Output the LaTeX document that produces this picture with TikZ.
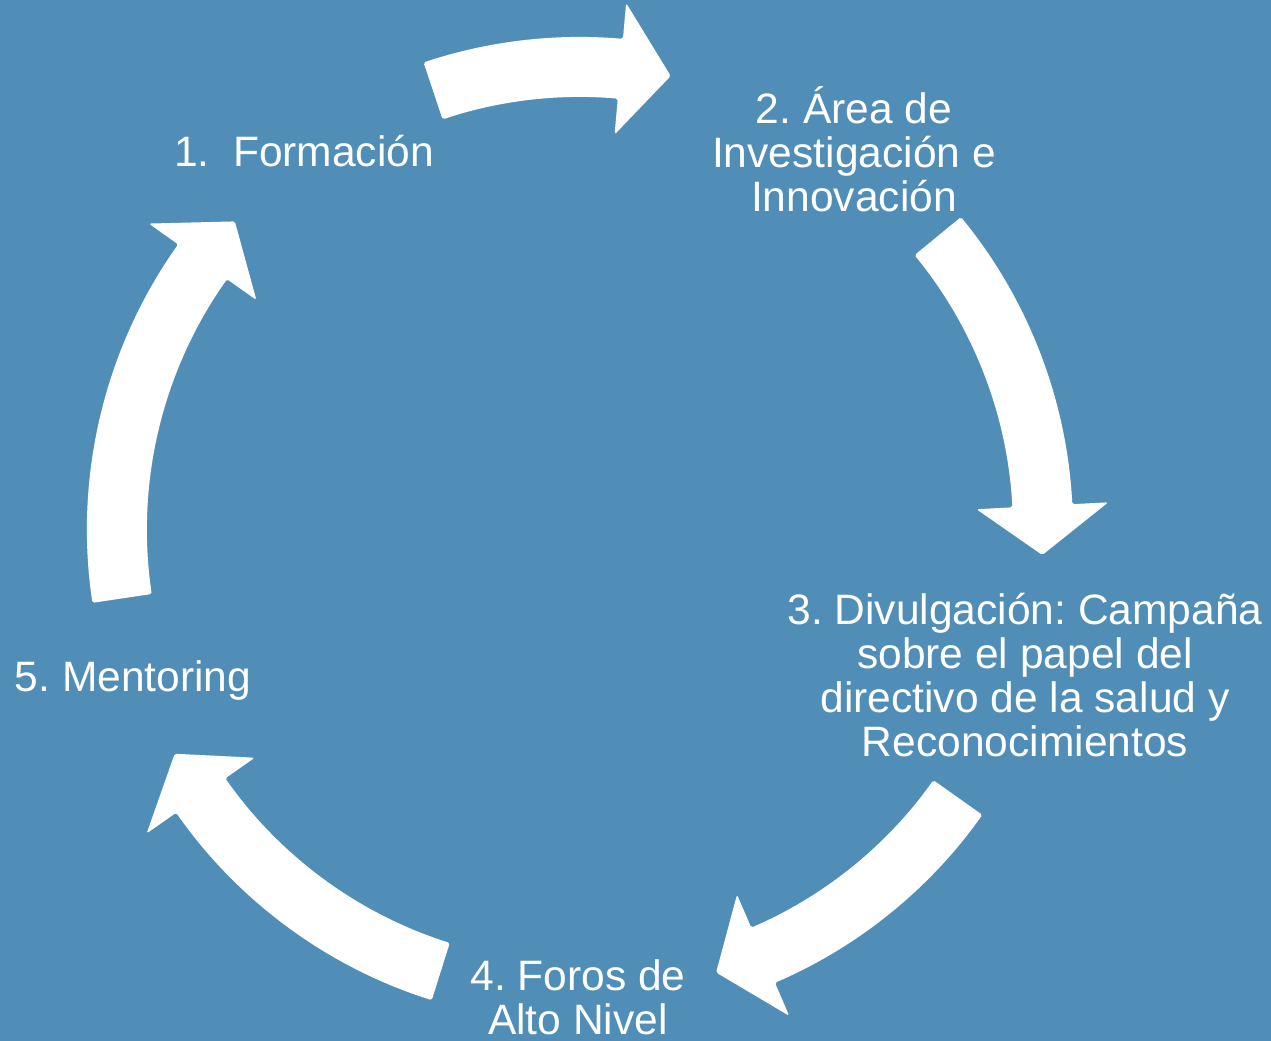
\documentclass[tikz,border=0pt]{standalone}
\usepackage{fontspec}
\setmainfont{Liberation Sans}
\definecolor{cycleblue}{RGB}{80,142,183}

\begin{document}
\frenchspacing
\begin{tikzpicture}[
		% Shape and text styles
		cyclearrow/.style={fill=white, rounded corners=1pt},
		steplabel/.style={text=white, font=\fontsize{24.2}{25.2}\selectfont, align=center,
				anchor=base, inner sep=0pt}
	]

	% Background
	\fill[cycleblue] (-11.6,-10.22) rectangle (13.82,10.6);
	\useasboundingbox (-11.6,-10.22) rectangle (13.82,10.6);

	% Steps of the cycle (base = last line)
	\node[steplabel] (formacion) at (-5.52,7.26) {1.\ \ Formación};
	\node[steplabel] (investigacion) at (5.48,6.36) {2. Área de \\ Investigación e \\ Innovación};
	\node[steplabel] (divulgacion) at (8.90,-4.54) {3. Divulgación: Campaña \\ sobre el papel del \\ directivo de la salud y \\ Reconocimientos};
	\node[steplabel] (foros) at (-0.04,-10.10) {4. Foros de \\ Alto Nivel};
	\node[steplabel] (mentoring) at (-8.94,-3.24) {5. Mentoring};

	% Curved arrows (outer radius 9.86, inner radius 8.66)
	\fill[cyclearrow] (108.5:9.86) arc[start angle=108.5, end angle=85, radius=9.86]
		-- (85:10.58) -- (78.7:9.26) -- (85:7.94) -- (85:8.66)
		arc[start angle=85, end angle=108.5, radius=8.66] -- cycle;
	\fill[cyclearrow] (39.4:9.86) arc[start angle=39.4, end angle=3, radius=9.86]
		-- (3:10.58) -- (-3.1:9.26) -- (3:7.94) -- (3:8.66)
		arc[start angle=3, end angle=39.4, radius=8.66] -- cycle;
	\fill[cyclearrow] (-35.3:9.86) arc[start angle=-35.3, end angle=-66.7, radius=9.86]
		-- (-66.7:10.58) -- (-72.9:9.26) -- (-66.7:7.94) -- (-66.7:8.66)
		arc[start angle=-66.7, end angle=-35.3, radius=8.66] -- cycle;
	\fill[cyclearrow] (-107.5:9.86) arc[start angle=-107.5, end angle=-145, radius=9.86]
		-- (-145:10.58) -- (-151.1:9.26) -- (-145:7.94) -- (-145:8.66)
		arc[start angle=-145, end angle=-107.5, radius=8.66] -- cycle;
	\fill[cyclearrow] (188.5:9.86) arc[start angle=188.5, end angle=144.6, radius=9.86]
		-- (144.6:10.58) -- (138.2:9.26) -- (144.6:7.94) -- (144.6:8.66)
		arc[start angle=144.6, end angle=188.5, radius=8.66] -- cycle;

\end{tikzpicture}
\end{document}
